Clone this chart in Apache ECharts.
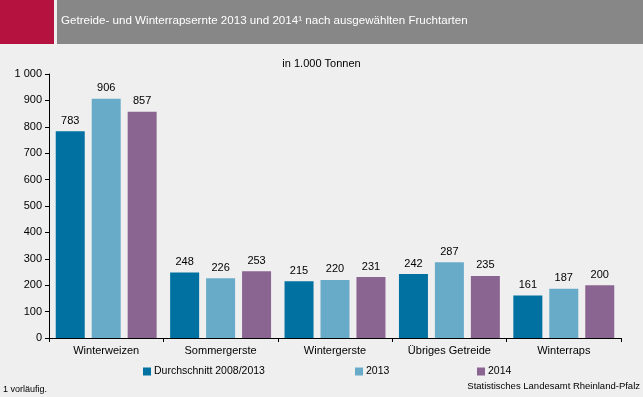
<!DOCTYPE html>
<html>
<head>
<meta charset="utf-8">
<script src="https://cdn.jsdelivr.net/npm/echarts@6/dist/echarts.min.js"></script>
<style>
html, body { margin: 0; padding: 0; background: #efefef; }
#chart { width: 643px; height: 397px; }
</style>
</head>
<body>
<div id="chart"></div>
<script>
var categories = ["Winterweizen", "Sommergerste", "Wintergerste", "Übriges Getreide", "Winterraps"];
var seriesNames = ["Durchschnitt 2008/2013", "2013", "2014"];
var avgValues = [783, 248, 215, 242, 161];
var values2013 = [906, 226, 220, 287, 187];
var values2014 = [857, 253, 231, 235, 200];
var colors = ["#0071a0", "#68abc9", "#8b6591"];

var myChart = echarts.init(document.getElementById("chart"));

function makeSeries(name, data, color) {
	return {
		name: name,
		type: 'bar',
		data: data,
		barWidth: 29,
		barGap: '24%',
		itemStyle: { color: color },
		label: {
			show: true,
			position: 'top',
			distance: 5,
			color: '#000',
			fontSize: 11,
			fontFamily: 'Liberation Sans'
		}
	};
}

function legendAt(name, left) {
	return {
		data: [name],
		left: left,
		top: 366,
		itemWidth: 8,
		itemHeight: 8,
		itemGap: 0,
		padding: 0,
		icon: 'rect',
		textStyle: { fontSize: 10.5, color: '#000', fontFamily: 'Liberation Sans', padding: [0, 0, 0, -2] }
	};
}

var option = {
	backgroundColor: '#efefef',
	color: colors,
	animation: false,
	textStyle: { fontFamily: 'Liberation Sans' },
	grid: { left: 49, right: 22, top: 74, bottom: 59 },
	legend: [
		legendAt(seriesNames[0], 143),
		legendAt(seriesNames[1], 355),
		legendAt(seriesNames[2], 477)
	],
	xAxis: {
		type: 'category',
		data: categories,
		axisLine: { lineStyle: { color: '#000', width: 1 } },
		axisTick: { show: true, length: 4, lineStyle: { color: '#000' } },
		axisLabel: { color: '#000', fontSize: 11, margin: 7 }
	},
	yAxis: {
		type: 'value',
		min: 0,
		max: 1000,
		interval: 100,
		axisLine: { show: true, lineStyle: { color: '#000', width: 1 } },
		axisTick: { show: true, length: 4, lineStyle: { color: '#000' } },
		splitLine: { show: false },
		axisLabel: {
			color: '#000',
			fontSize: 11,
			margin: 7,
			formatter: function (v) { return v >= 1000 ? '1 000' : String(v); }
		}
	},
	graphic: [
		{ type: 'rect', shape: { x: 0, y: 0, width: 54, height: 44 }, style: { fill: '#b5123f' } },
		{ type: 'rect', shape: { x: 57, y: 0, width: 586, height: 44 }, style: { fill: '#878787' } },
		{
			type: 'text', left: 61, top: 15,
			style: {
				text: 'Getreide- und Winterrapsernte 2013 und 2014¹ nach ausgewählten Fruchtarten',
				fill: '#fff', fontSize: 11.6, fontFamily: 'Liberation Sans'
			}
		},
		{
			type: 'text', left: 'center', top: 58,
			style: { text: 'in 1.000 Tonnen', fill: '#000', fontSize: 11, fontFamily: 'Liberation Sans' }
		},
		{
			type: 'text', left: 3, top: 385,
			style: { text: '1 vorläufig.', fill: '#000', fontSize: 9, fontFamily: 'Liberation Sans' }
		},
		{
			type: 'text', right: 3, top: 381,
			style: { text: 'Statistisches Landesamt Rheinland-Pfalz', fill: '#000', fontSize: 9.5, fontFamily: 'Liberation Sans' }
		}
	],
	series: [
		makeSeries(seriesNames[0], avgValues, colors[0]),
		makeSeries(seriesNames[1], values2013, colors[1]),
		makeSeries(seriesNames[2], values2014, colors[2])
	]
};

myChart.setOption(option);
</script>
</body>
</html>
